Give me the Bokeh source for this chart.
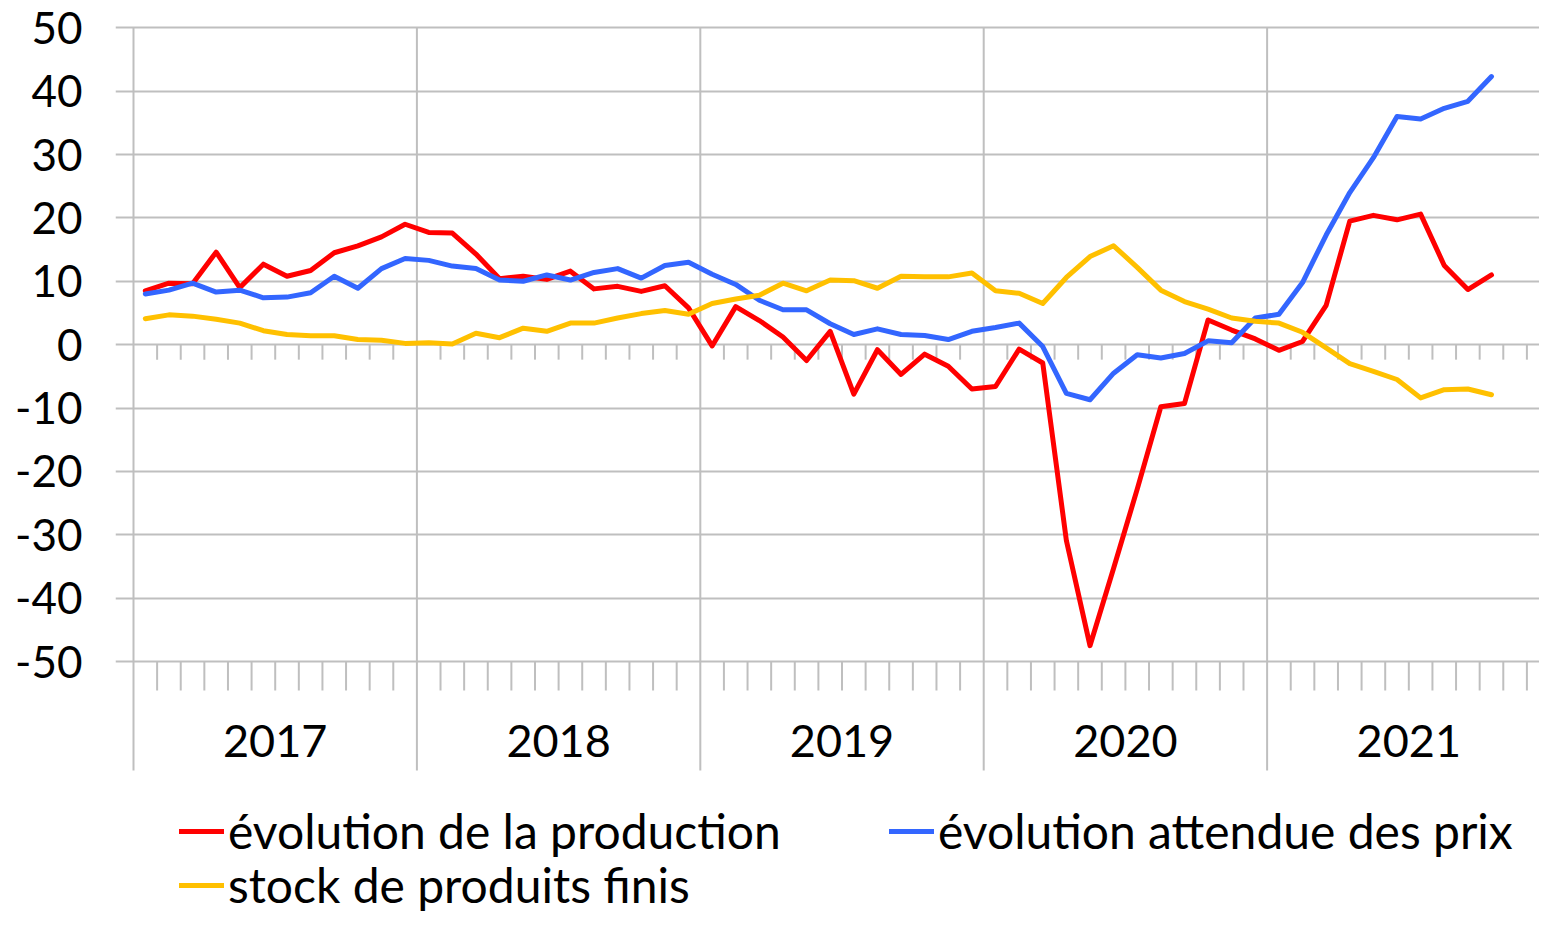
from bokeh.plotting import figure
from bokeh.models import Range1d, FixedTicker, Legend, LegendItem
from bokeh.core.properties import value
from bokeh.embed import file_html
from bokeh.resources import INLINE

# ---------------- data ----------------
years = ["2017", "2018", "2019", "2020", "2021"]

production = [8.5, 9.7, 9.6, 14.6, 9.0, 12.7, 10.8, 11.7, 14.5, 15.6, 17.0, 19.0,
              17.7, 17.6, 14.3, 10.4, 10.8, 10.3, 11.6, 8.8, 9.2, 8.4, 9.3, 5.8,
              -0.2, 6.0, 3.8, 1.2, -2.5, 2.1, -7.8, -0.8, -4.7, -1.5, -3.4, -7.0,
              -6.6, -0.7, -2.9, -30.9, -47.5, -35.3, -22.8, -9.8, -9.3, 3.9, 2.3, 0.9,
              -0.9, 0.5, 6.2, 19.5, 20.4, 19.7, 20.6, 12.5, 8.7, 11.0]

prices = [8.0, 8.6, 9.7, 8.3, 8.6, 7.4, 7.5, 8.2, 10.8, 8.9, 12.0, 13.6,
          13.3, 12.4, 12.0, 10.2, 10.0, 11.0, 10.2, 11.4, 12.0, 10.5, 12.5, 13.0,
          11.1, 9.5, 7.0, 5.5, 5.5, 3.3, 1.6, 2.5, 1.6, 1.45, 0.8, 2.1,
          2.7, 3.4, -0.3, -7.7, -8.7, -4.5, -1.6, -2.1, -1.4, 0.6, 0.3, 4.2,
          4.8, 9.8, 17.3, 24.0, 29.5, 36.0, 35.6, 37.3, 38.4, 42.3]

stocks = [4.1, 4.7, 4.5, 4.0, 3.4, 2.2, 1.6, 1.4, 1.4, 0.8, 0.7, 0.2,
          0.3, 0.1, 1.8, 1.1, 2.6, 2.1, 3.4, 3.4, 4.2, 4.9, 5.4, 4.8,
          6.5, 7.2, 7.8, 9.7, 8.5, 10.2, 10.1, 8.9, 10.8, 10.7, 10.7, 11.3,
          8.5, 8.1, 6.5, 10.6, 13.9, 15.6, 12.2, 8.6, 6.8, 5.6, 4.2, 3.7,
          3.4, 1.95, -0.5, -3.0, -4.2, -5.5, -8.4, -7.1, -7.0, -7.9]

series_names = ["évolution de la production",
                "évolution attendue des prix",
                "stock de produits finis"]
series_colors = ["#FF0000", "#3366FF", "#FFC000"]
y_ticks = [-50, -40, -30, -20, -10, 0, 10, 20, 30, 40, 50]

# ---------------- geometry ----------------
FONT = "Lato"
GRID = "#BFBFBF"
W, H = 1539, 915
LEFT = 115
PX_MONTH = 23.617
PX_UNIT = 6.337
n_months = 12 * len(years)

x_start = -18 / PX_MONTH
x_end = x_start + (W - LEFT) / PX_MONTH
y_end = 50 + 27.3 / PX_UNIT
y_start = y_end - H / PX_UNIT

p = figure(width=W, height=H, output_backend="svg", toolbar_location=None,
           x_range=Range1d(x_start, x_end), y_range=Range1d(y_start, y_end),
           x_axis_location=None, min_border_left=LEFT, min_border_right=0,
           min_border_top=0, min_border_bottom=0)
p.outline_line_color = None
p.background_fill_color = "white"
p.border_fill_color = "white"
p.xgrid.visible = False

p.yaxis.ticker = FixedTicker(ticks=y_ticks)
p.yaxis.major_label_overrides = {t: str(t) for t in y_ticks}
p.yaxis.axis_line_color = None
p.yaxis.major_tick_line_color = None
p.yaxis.minor_tick_line_color = None
p.yaxis.major_tick_out = 0
p.yaxis.major_tick_in = 0
p.yaxis.major_label_standoff = 33
p.yaxis.major_label_text_font = FONT
p.yaxis.major_label_text_font_size = "44px"
p.yaxis.major_label_text_color = "#000000"
p.ygrid.grid_line_color = GRID
p.ygrid.grid_line_width = 2

# year separators (and value axis line at x=0)
bounds = [12 * i for i in range(len(years))]
y_low_sep = -50 - 109 / PX_UNIT
p.segment(x0=bounds, y0=[50] * len(bounds), x1=bounds, y1=[y_low_sep] * len(bounds),
          line_color=GRID, line_width=2)

# month tick marks at the zero line and at the bottom
mticks = [m for m in range(1, n_months) if m % 12]
p.segment(x0=mticks, y0=[0] * len(mticks), x1=mticks, y1=[-15 / PX_UNIT] * len(mticks),
          line_color=GRID, line_width=2)
p.segment(x0=mticks, y0=[-50] * len(mticks), x1=mticks, y1=[-50 - 29 / PX_UNIT] * len(mticks),
          line_color=GRID, line_width=2)

# year labels
p.text(x=[12 * i + 6 for i in range(len(years))], y=[-50 - 79 / PX_UNIT] * len(years),
       text=years, text_align="center", text_baseline="middle",
       text_font=value(FONT), text_font_size="45px", text_color="#000000")

# series
xs = [i + 0.5 for i in range(len(production))]
renderers = []
for vals, col in zip([production, prices, stocks], series_colors):
    r = p.line(xs, vals, line_color=col, line_width=5, line_join="round", line_cap="round")
    renderers.append(r)

def make_legend(r, label, loc):
    lg = Legend(items=[LegendItem(label=label, renderers=[r])], location=loc,
                glyph_width=45, glyph_height=20, label_standoff=4, padding=0, margin=0,
                spacing=0, border_line_color=None, background_fill_alpha=0,
                label_text_font=FONT, label_text_font_size="48px",
                label_text_color="#000000", label_text_baseline="middle")
    p.add_layout(lg)

make_legend(renderers[0], series_names[0], (64, 56))
make_legend(renderers[1], series_names[1], (774, 56))
make_legend(renderers[2], series_names[2], (64, 2))

open("out.html", "w").write(file_html(p, INLINE))
